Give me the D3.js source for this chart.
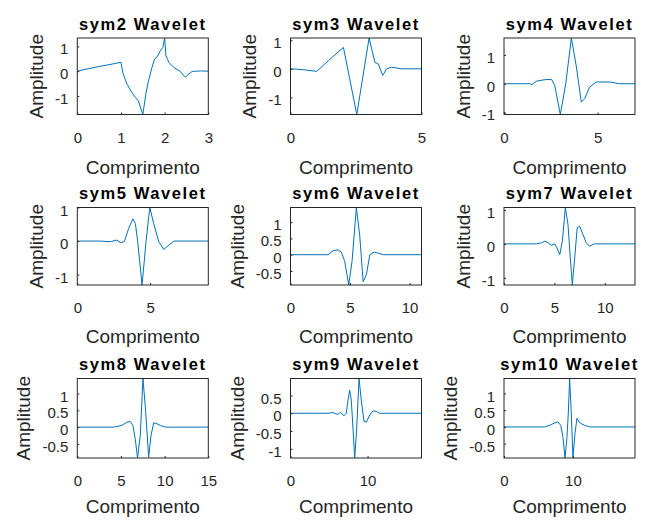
<!DOCTYPE html>
<html>
<head>
<meta charset="utf-8">
<script src="https://cdn.jsdelivr.net/npm/d3@7"></script>
<style>
  body { margin: 0; background: #fff; }
  text { font-family: "Liberation Sans", Arial, sans-serif; }
</style>
</head>
<body>
<div id="myChart"></div>
<script>
// wavelet names, x extent (support length) and tick labels
const names = ["sym2", "sym3", "sym4", "sym5", "sym6", "sym7", "sym8", "sym9", "sym10"];
const xMax = [3, 5, 7, 9, 11, 13, 15, 17, 19];
const xTickValues = [[0, 1, 2, 3], [0, 5], [0, 5], [0, 5], [0, 5, 10], [0, 5, 10], [0, 5, 10, 15], [0, 10], [0, 10]];
const yTickValues = [[-1, 0, 1], [-1, 0, 1], [-1, 0, 1], [-1, 0, 1], [-0.5, 0, 0.5, 1], [-1, 0, 1], [-0.5, 0, 0.5, 1], [-1, -0.5, 0, 0.5], [-0.5, 0, 0.5, 1]];

// psi curves, [x, amplitude]
const sym2 = [[0, 0], [0.25, 0.1], [0.5, 0.19], [0.75, 0.27], [1.0, 0.36], [1.04, -0.05], [1.14, -0.53], [1.25, -0.86], [1.33, -1.06], [1.4, -1.2], [1.5, -1.75],
  [1.57, -0.93], [1.63, -0.39], [1.71, 0.15], [1.77, 0.49], [1.83, 0.58], [1.9, 0.82], [1.96, 0.96], [2.0, 1.34], [2.03, 0.62], [2.1, 0.35], [2.21, 0.15],
  [2.36, -0.01], [2.44, -0.19], [2.48, -0.23], [2.53, -0.15], [2.63, -0.01], [2.82, 0.01], [3.0, 0]];
const sym3 = [[0, 0], [0.5, -0.03], [1.0, -0.09], [1.45, 0.29], [2.02, 0.75], [2.53, -1.6], [3.0, 1.08], [3.22, 0.23], [3.35, 0.17], [3.52, -0.23],
  [3.67, 0], [3.86, 0.06], [4.24, 0], [5, 0]];
const sym4 = [[0, 0], [1.38, 0], [1.5, -0.03], [1.74, 0.09], [2.18, 0.14], [2.54, 0.15], [2.71, -0.06], [3.01, -1.07], [3.3, 0], [3.6, 1.59],
  [3.87, 0.58], [4.13, -0.64], [4.31, -0.52], [4.57, -0.12], [4.93, 0.06], [5.64, 0.06], [6.17, 0], [7, 0]];
const sym5 = [[0, 0], [1.57, 0], [2.26, -0.02], [2.72, 0.03], [2.95, -0.05], [3.23, -0.02], [3.53, 0.38], [3.82, 0.66], [3.99, 0.52], [4.15, -0.02],
  [4.45, -1.31], [4.72, -0.02], [4.98, 1.0], [5.25, 0.52], [5.6, -0.02], [5.94, -0.25], [6.29, -0.12], [6.64, 0], [7.3, 0], [9, 0]];
const sym6 = [[0, 0], [3.15, 0], [3.57, 0.12], [3.99, 0.15], [4.27, 0.08], [4.55, -0.2], [4.89, -0.93], [5.17, -0.2], [5.53, 1.45], [5.81, 0.6],
  [6.1, -0.83], [6.38, -0.6], [6.66, 0], [7.02, 0.08], [7.36, 0.05], [7.78, 0], [11, 0]];
const sym7 = [[0, 0], [3.22, 0], [3.72, 0.03], [4.05, 0.08], [4.38, 0.03], [4.7, -0.04], [5.03, 0], [5.26, -0.12], [5.53, -0.32], [5.79, 0.08],
  [6.09, 1.07], [6.35, 0.57], [6.58, -0.42], [6.78, -1.21], [7.01, -0.42], [7.27, 0.48], [7.5, 0.52], [7.83, 0.28], [8.16, 0.03], [8.49, -0.07],
  [8.98, 0], [13, 0]];
const sym8 = [[0, 0], [4.14, 0], [5.1, 0.05], [5.68, 0.15], [6.06, 0.17], [6.37, 0.05], [6.64, -0.36], [6.9, -0.92], [7.21, -0.25], [7.52, 1.45],
  [7.83, 0.46], [8.17, -0.9], [8.44, -0.25], [8.75, 0.13], [9.13, 0.1], [9.51, 0.05], [10.1, 0], [15, 0]];
const sym9 = [[0, 0], [4.86, 0], [5.5, 0.02], [6.07, -0.03], [6.5, 0.02], [6.94, -0.07], [7.24, 0], [7.46, 0.37], [7.68, 0.65], [7.89, 0.37],
  [8.11, -0.42], [8.33, -1.26], [8.59, -0.42], [8.89, 0.98], [9.19, 0.37], [9.54, -0.23], [9.84, -0.25], [10.28, -0.05], [10.71, 0.07],
  [11.14, 0.05], [11.58, 0], [17, 0]];
const sym10 = [[0, 0], [5.9, 0], [6.63, 0.05], [7.36, 0.12], [7.84, 0.15], [8.22, 0.05], [8.56, -0.32], [8.85, -0.93], [9.13, -0.32], [9.33, 0.42],
  [9.52, 1.45], [9.76, 0.42], [10.0, -0.92], [10.29, -0.2], [10.58, 0.26], [10.87, 0.15], [11.2, 0.1], [11.68, 0.05], [12.4, 0], [19, 0]];

const waves = [sym2, sym3, sym4, sym5, sym6, sym7, sym8, sym9, sym10];

const size = {
    width: 646,
    height: 521,
    boxWidth: 131,
    cols: [77.3, 290.5, 504],
    rows: [38, 207.5, 378.5],
    boxHeight: [76.5, 77.5, 79.5],
    xLabelGap: [59, 58, 55],
};

const axisColor = "#262626";
const lineColor = "#0072BD";

const drawChart = function(size) {
    const svg = d3.select("#myChart")
        .append("svg")
        .attr("width", size.width)
        .attr("height", size.height);

    waves.forEach((points, i) => {
        const col = i % 3;
        const row = Math.floor(i / 3);
        const w = size.boxWidth;
        const h = size.boxHeight[row];

        const g = svg.append("g")
            .attr("transform", `translate(${size.cols[col]}, ${size.rows[row]})`);

        const x = d3.scaleLinear().domain([0, xMax[i]]).range([0, w]);
        // axis tight, like matlab
        const y = d3.scaleLinear().domain(d3.extent(points, d => d[1])).range([h, 0]);

        const line = d3.line().x(d => x(d[0])).y(d => y(d[1]));
        g.append("path")
            .datum(points)
            .attr("d", line)
            .attr("fill", "none")
            .attr("stroke", lineColor)
            .attr("stroke-width", 1);

        // x axis, ticks pointing in
        const xAxis = g.append("g")
            .attr("transform", `translate(0, ${h})`)
            .call(d3.axisBottom(x)
                .tickValues(xTickValues[i])
                .tickSizeInner(-2)
                .tickSizeOuter(0)
                .tickPadding(17.5)
                .tickFormat(d => String(d)));

        const yAxis = g.append("g")
            .call(d3.axisLeft(y)
                .tickValues(yTickValues[i])
                .tickSizeInner(-2)
                .tickSizeOuter(0)
                .tickPadding(9)
                .tickFormat(d => String(d)));
        yAxis.selectAll("text").attr("dy", "0.5em");

        [xAxis, yAxis].forEach(a => {
            a.select(".domain").remove();
            a.selectAll("line").attr("stroke", axisColor);
            a.selectAll("text")
                .attr("fill", axisColor)
                .style("font-size", "15px")
                .style("font-family", "'Liberation Sans', Arial, sans-serif");
        });

        g.append("rect")
            .attr("width", w)
            .attr("height", h)
            .attr("fill", "none")
            .attr("stroke", axisColor)
            .attr("stroke-width", 1);

        g.append("text")
            .attr("x", w / 2)
            .attr("y", -8.5)
            .attr("text-anchor", "middle")
            .style("font-size", "16.5px")
            .style("font-weight", "bold")
            .style("letter-spacing", "1.6px")
            .attr("fill", "#000")
            .text(`${names[i]} Wavelet`);

        g.append("text")
            .attr("x", w / 2)
            .attr("y", h + size.xLabelGap[row])
            .attr("text-anchor", "middle")
            .style("font-size", "19px")
            .attr("fill", axisColor)
            .text("Comprimento");

        // ylabel sits left of the widest tick label
        const tickW = d3.max(yAxis.selectAll("text").nodes(), n => n.getBBox().width);
        g.append("text")
            .attr("transform", `translate(${-(9 + tickW + 12)}, ${h / 2}) rotate(-90)`)
            .attr("text-anchor", "middle")
            .style("font-size", "19px")
            .attr("fill", axisColor)
            .text("Amplitude");
    });
};

window.onload = () => {
    drawChart(size);
};
</script>
</body>
</html>
